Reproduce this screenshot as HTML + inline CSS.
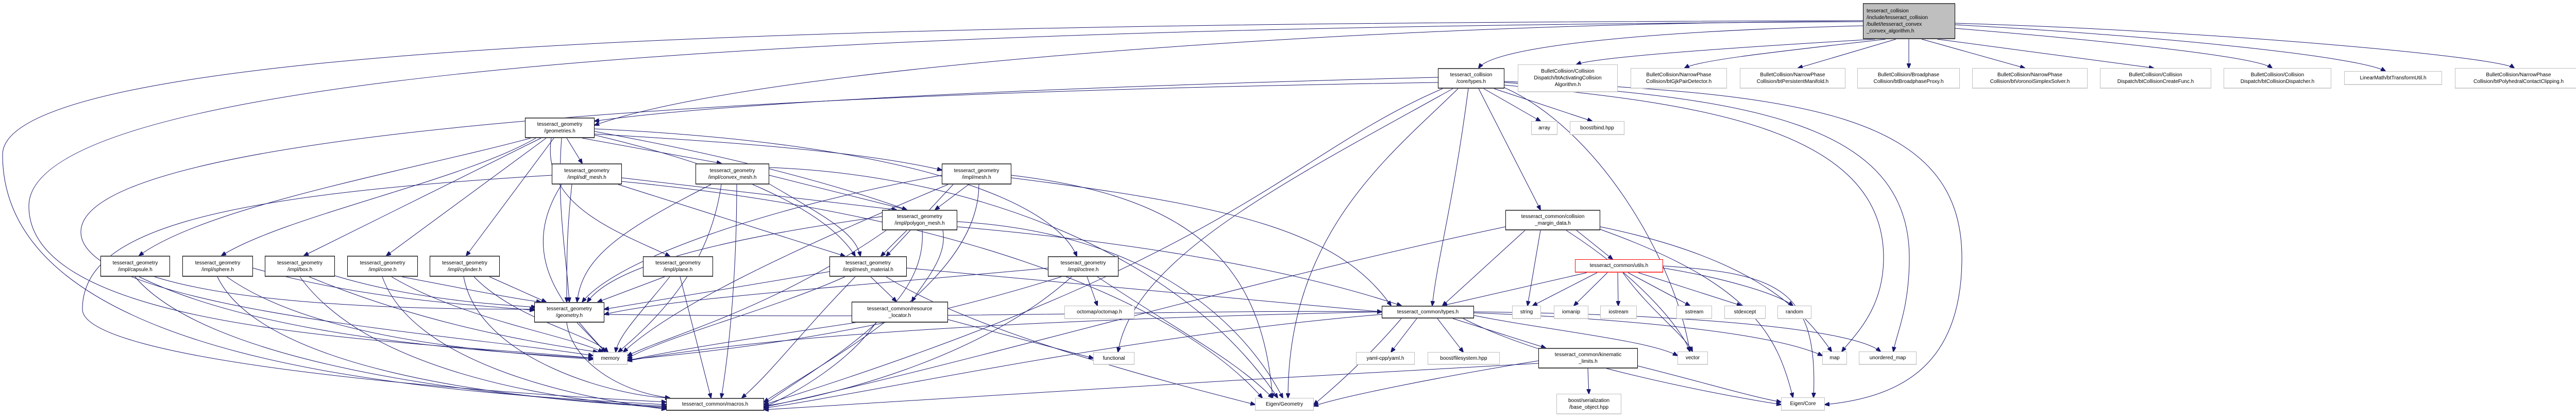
<!DOCTYPE html>
<html><head><meta charset="utf-8"><style>
body{margin:0;width:5013px;height:811px;background:#fff;position:relative;overflow:hidden;font-family:"Liberation Sans",sans-serif;}
.n{position:absolute;box-sizing:border-box;border:1px solid #000;border-bottom:2px solid #444;border-top:2px solid #555;background:#fff;font-size:10px;line-height:13px;color:#000;display:flex;align-items:center;justify-content:center;text-align:center;white-space:nowrap;}
.e{border:1px solid #bfbfbf;border-bottom:2px solid #d0d0d0;}
.r{border:1px solid #f00;border-bottom:2px solid #f44;}
svg{position:absolute;left:0;top:0}
path{fill:none;stroke:#191970;stroke-width:1}
</style></head><body>
<svg width="5013" height="811">
<defs><marker id="a" markerWidth="10" markerHeight="8" refX="9" refY="4" orient="auto" markerUnits="userSpaceOnUse"><path d="M0 0L10 4L0 8z" style="fill:#191970;stroke:#191970"/></marker></defs>
<g marker-end="url(#a)">
<path d="M3616 50 C3200 60 2900 90 2870 132"/>
<path d="M3640 76 C3400 90 3100 110 3060 125"/>
<path d="M3660 76 C3500 95 3300 115 3270 132"/>
<path d="M3680 76 L3490 132"/>
<path d="M3705 76 L3705 132"/>
<path d="M3730 76 L3930 132"/>
<path d="M3760 76 L4180 132"/>
<path d="M3795 55 C4100 80 4380 110 4410 132"/>
<path d="M3795 48 C4200 70 4580 110 4630 138"/>
<path d="M3795 45 C4300 60 4850 110 4880 132"/>
<path d="M3616 42 C2800 40 1500 120 1154 243"/>
<path d="M3616 40 C2000 45 5 60 5 300 C5 700 800 760 1293 785"/>
<path d="M3616 42 C2200 50 56 90 56 400 C56 650 800 660 1151 695"/>
<path d="M2791 160 C1500 180 157 250 157 450 C157 600 900 650 1151 690"/>
<path d="M2791 150 C2000 170 1400 200 1154 235"/>
<path d="M2880 172 L2990 235"/>
<path d="M2900 172 L3090 235"/>
<path d="M2870 172 L2990 407"/>
<path d="M2850 172 C2820 400 2790 500 2780 593"/>
<path d="M2830 172 C2700 300 2500 450 2500 772"/>
<path d="M2800 172 C2500 300 2400 500 1483 785"/>
<path d="M2820 172 C2500 350 2200 500 2170 683"/>
<path d="M2920 165 C3300 200 3656 250 3656 500 C3656 600 3600 650 3575 682"/>
<path d="M2920 160 C3400 190 3706 240 3706 500 C3706 600 3680 650 3675 682"/>
<path d="M2920 158 C3500 180 3808 220 3808 500 C3808 700 3700 770 3542 785"/>
<path d="M2920 170 C3100 250 3250 500 3280 682"/>
<path d="M1030 268 C800 330 400 400 270 496"/>
<path d="M1040 268 C900 350 550 420 430 496"/>
<path d="M1050 268 L590 496"/>
<path d="M1060 268 L750 496"/>
<path d="M1075 268 L905 496"/>
<path d="M1100 268 L1130 317"/>
<path d="M1130 268 L1400 317"/>
<path d="M1154 260 C1500 280 1700 300 1828 330"/>
<path d="M1154 255 C1400 300 1600 350 1760 407"/>
<path d="M1070 268 C1050 400 1200 450 1300 497"/>
<path d="M1154 262 C1400 320 1600 400 1660 497"/>
<path d="M1154 250 C1800 280 2050 400 2090 497"/>
<path d="M1090 268 C1080 400 1100 500 1105 586"/>
<path d="M1110 358 C1100 450 1100 500 1100 586"/>
<path d="M1090 358 C1000 500 1100 600 1175 683"/>
<path d="M1071 340 C400 380 160 450 160 600 C160 700 900 760 1293 780"/>
<path d="M1207 345 L1740 407"/>
<path d="M1200 358 L1640 497"/>
<path d="M1207 352 C1900 420 2300 600 2450 772"/>
<path d="M1380 358 C1200 450 1130 500 1120 586"/>
<path d="M1400 358 C1380 500 1300 600 1200 683"/>
<path d="M1430 358 C1430 500 1420 650 1400 772"/>
<path d="M1493 340 L1760 407"/>
<path d="M1490 355 C1600 420 1660 450 1670 497"/>
<path d="M1493 325 C1900 340 2300 500 2480 772"/>
<path d="M1880 358 L1815 407"/>
<path d="M1828 340 C1500 400 1200 500 1130 586"/>
<path d="M1850 358 L1720 497"/>
<path d="M1840 358 C1500 500 1300 600 1210 683"/>
<path d="M1900 358 C1900 550 1600 700 1483 780"/>
<path d="M1963 340 C2300 380 2450 500 2470 772"/>
<path d="M1963 345 C2400 400 2600 450 2700 593"/>
<path d="M1712 420 C1500 450 1200 500 1140 586"/>
<path d="M1760 447 L1710 497"/>
<path d="M1830 447 C1840 500 1790 550 1770 585"/>
<path d="M1720 447 C1500 600 1300 650 1218 690"/>
<path d="M1790 447 C1800 600 1600 700 1483 785"/>
<path d="M1858 430 C2200 450 2400 600 2490 772"/>
<path d="M1858 440 C2200 470 2500 520 2720 593"/>
<path d="M300 537 C500 600 900 600 1037 600"/>
<path d="M270 537 C500 650 900 680 1151 695"/>
<path d="M262 537 C400 700 900 770 1293 788"/>
<path d="M491 520 C700 580 900 590 1037 602"/>
<path d="M440 537 C600 650 900 680 1151 697"/>
<path d="M422 537 C500 700 900 770 1293 790"/>
<path d="M650 535 C800 580 950 590 1040 596"/>
<path d="M600 537 C800 620 1000 660 1160 683"/>
<path d="M582 537 C700 700 1000 770 1293 792"/>
<path d="M780 537 C900 560 1000 580 1050 586"/>
<path d="M760 537 C900 620 1100 650 1170 683"/>
<path d="M742 537 C800 700 1100 770 1293 794"/>
<path d="M950 537 L1060 586"/>
<path d="M920 537 C1000 620 1150 650 1180 683"/>
<path d="M900 537 C930 700 1200 770 1300 772"/>
<path d="M1290 537 L1160 586"/>
<path d="M1300 537 C1250 600 1200 650 1195 683"/>
<path d="M1320 537 L1380 772"/>
<path d="M1610 527 L1173 600"/>
<path d="M1690 537 L1740 585"/>
<path d="M1640 537 C1500 600 1300 650 1218 695"/>
<path d="M1660 537 C1550 650 1500 720 1440 772"/>
<path d="M1720 537 C1900 650 2300 750 2436 785"/>
<path d="M1760 520 L2682 605"/>
<path d="M2034 520 C1600 560 1300 580 1173 610"/>
<path d="M2110 537 L2130 593"/>
<path d="M2060 537 C1700 650 1400 680 1218 698"/>
<path d="M2080 537 C1900 700 1600 770 1483 788"/>
<path d="M2130 537 C2300 650 2400 700 2470 772"/>
<path d="M1660 626 C1500 650 1300 680 1218 700"/>
<path d="M1700 626 C1650 700 1550 760 1483 790"/>
<path d="M1840 620 L2122 695"/>
<path d="M1120 626 L1175 683"/>
<path d="M1100 626 C1110 700 1200 760 1300 772"/>
<path d="M1173 610 C1900 620 2300 600 2682 605"/>
<path d="M3060 447 L3130 503"/>
<path d="M2960 447 L2800 593"/>
<path d="M2990 447 L2965 593"/>
<path d="M3106 440 C3400 500 3500 600 3555 682"/>
<path d="M3106 445 C3400 550 3450 650 3480 771"/>
<path d="M2922 440 C2400 550 1900 700 1483 790"/>
<path d="M3040 447 C3200 550 3270 650 3280 682"/>
<path d="M3100 529 L2975 593"/>
<path d="M3120 529 L3055 593"/>
<path d="M3140 529 L3141 593"/>
<path d="M3160 529 L3280 593"/>
<path d="M3180 529 L3380 593"/>
<path d="M3228 520 C3350 540 3450 570 3480 593"/>
<path d="M3150 529 C3200 600 3270 650 3285 682"/>
<path d="M3080 529 L2800 593"/>
<path d="M3228 516 C3450 530 3530 560 3520 771"/>
<path d="M2750 618 L2700 683"/>
<path d="M2790 618 L2840 683"/>
<path d="M2820 618 L3000 675"/>
<path d="M2861 612 C3000 640 3200 660 3256 690"/>
<path d="M2861 607 C3200 620 3450 650 3537 690"/>
<path d="M2861 605 C3300 610 3600 640 3650 682"/>
<path d="M2840 618 C3000 700 3300 760 3457 785"/>
<path d="M2720 618 C2650 700 2580 760 2550 785"/>
<path d="M2682 610 C2200 650 1700 760 1483 792"/>
<path d="M2682 605 C2000 620 1500 650 1218 700"/>
<path d="M3082 715 L3084 764"/>
<path d="M2986 700 C2800 730 2600 770 2550 788"/>
<path d="M3179 710 C3300 740 3400 770 3457 780"/>
<path d="M2986 705 C2500 730 1700 780 1483 795"/>
</g></svg>

<div class="n" style="left:3616px;top:6px;width:179px;height:70px;background:#bfbfbf;justify-content:flex-start;text-align:left;padding-left:6px">tesseract_collision<br>/include/tesseract_collision<br>/bullet/tesseract_convex<br>_convex_algorithm.h</div>
<div class="n" style="left:2791px;top:132px;width:129px;height:40px">tesseract_collision<br>/core/types.h</div>
<div class="n e" style="left:2946px;top:125px;width:194px;height:54px">BulletCollision/Collision<br>Dispatch/btActivatingCollision<br>Algorithm.h</div>
<div class="n e" style="left:3165px;top:132px;width:187px;height:40px">BulletCollision/NarrowPhase<br>Collision/btGjkPairDetector.h</div>
<div class="n e" style="left:3377px;top:132px;width:205px;height:40px">BulletCollision/NarrowPhase<br>Collision/btPersistentManifold.h</div>
<div class="n e" style="left:3605px;top:132px;width:199px;height:40px">BulletCollision/Broadphase<br>Collision/btBroadphaseProxy.h</div>
<div class="n e" style="left:3828px;top:132px;width:224px;height:40px">BulletCollision/NarrowPhase<br>Collision/btVoronoiSimplexSolver.h</div>
<div class="n e" style="left:4076px;top:132px;width:216px;height:40px">BulletCollision/Collision<br>Dispatch/btCollisionCreateFunc.h</div>
<div class="n e" style="left:4316px;top:132px;width:209px;height:40px">BulletCollision/Collision<br>Dispatch/btCollisionDispatcher.h</div>
<div class="n e" style="left:4550px;top:138px;width:190px;height:27px">LinearMath/btTransformUtil.h</div>
<div class="n e" style="left:4765px;top:132px;width:247px;height:40px">BulletCollision/NarrowPhase<br>Collision/btPolyhedralContactClipping.h</div>
<div class="n" style="left:1019px;top:228px;width:135px;height:40px">tesseract_geometry<br>/geometries.h</div>
<div class="n e" style="left:2972px;top:235px;width:51px;height:27px">array</div>
<div class="n e" style="left:3047px;top:235px;width:106px;height:27px">boost/bind.hpp</div>
<div class="n" style="left:1071px;top:317px;width:136px;height:41px">tesseract_geometry<br>/impl/sdf_mesh.h</div>
<div class="n" style="left:1350px;top:317px;width:143px;height:41px">tesseract_geometry<br>/impl/convex_mesh.h</div>
<div class="n" style="left:1828px;top:317px;width:135px;height:41px">tesseract_geometry<br>/impl/mesh.h</div>
<div class="n" style="left:1712px;top:407px;width:146px;height:40px">tesseract_geometry<br>/impl/polygon_mesh.h</div>
<div class="n" style="left:2922px;top:407px;width:184px;height:40px">tesseract_common/collision<br>_margin_data.h</div>
<div class="n" style="left:195px;top:496px;width:135px;height:41px">tesseract_geometry<br>/impl/capsule.h</div>
<div class="n" style="left:354px;top:496px;width:137px;height:41px">tesseract_geometry<br>/impl/sphere.h</div>
<div class="n" style="left:514px;top:496px;width:136px;height:41px">tesseract_geometry<br>/impl/box.h</div>
<div class="n" style="left:674px;top:496px;width:137px;height:41px">tesseract_geometry<br>/impl/cone.h</div>
<div class="n" style="left:834px;top:496px;width:136px;height:41px">tesseract_geometry<br>/impl/cylinder.h</div>
<div class="n" style="left:1248px;top:497px;width:136px;height:40px">tesseract_geometry<br>/impl/plane.h</div>
<div class="n" style="left:1610px;top:497px;width:150px;height:40px">tesseract_geometry<br>/impl/mesh_material.h</div>
<div class="n" style="left:2034px;top:497px;width:137px;height:40px">tesseract_geometry<br>/impl/octree.h</div>
<div class="n r" style="left:3057px;top:503px;width:171px;height:26px">tesseract_common/utils.h</div>
<div class="n" style="left:1037px;top:586px;width:136px;height:40px">tesseract_geometry<br>/geometry.h</div>
<div class="n" style="left:1653px;top:585px;width:187px;height:41px">tesseract_common/resource<br>_locator.h</div>
<div class="n e" style="left:2066px;top:593px;width:136px;height:26px">octomap/octomap.h</div>
<div class="n" style="left:2682px;top:593px;width:179px;height:25px">tesseract_common/types.h</div>
<div class="n e" style="left:2935px;top:593px;width:56px;height:26px">string</div>
<div class="n e" style="left:3016px;top:593px;width:67px;height:26px">iomanip</div>
<div class="n e" style="left:3106px;top:593px;width:71px;height:26px">iostream</div>
<div class="n e" style="left:3254px;top:593px;width:69px;height:26px">sstream</div>
<div class="n e" style="left:3347px;top:593px;width:80px;height:26px">stdexcept</div>
<div class="n e" style="left:3450px;top:593px;width:66px;height:26px">random</div>
<div class="n e" style="left:1151px;top:683px;width:67px;height:25px">memory</div>
<div class="n e" style="left:2122px;top:683px;width:80px;height:25px">functional</div>
<div class="n e" style="left:2632px;top:683px;width:114px;height:25px">yaml-cpp/yaml.h</div>
<div class="n e" style="left:2771px;top:683px;width:140px;height:25px">boost/filesystem.hpp</div>
<div class="n" style="left:2986px;top:675px;width:193px;height:40px">tesseract_common/kinematic<br>_limits.h</div>
<div class="n e" style="left:3256px;top:682px;width:59px;height:26px">vector</div>
<div class="n e" style="left:3537px;top:682px;width:48px;height:26px">map</div>
<div class="n e" style="left:3608px;top:682px;width:112px;height:26px">unordered_map</div>
<div class="n" style="left:1293px;top:772px;width:190px;height:25px">tesseract_common/macros.h</div>
<div class="n e" style="left:2436px;top:772px;width:114px;height:25px">Eigen/Geometry</div>
<div class="n e" style="left:3021px;top:764px;width:126px;height:40px">boost/serialization<br>/base_object.hpp</div>
<div class="n e" style="left:3457px;top:771px;width:85px;height:26px">Eigen/Core</div>
</body></html>
